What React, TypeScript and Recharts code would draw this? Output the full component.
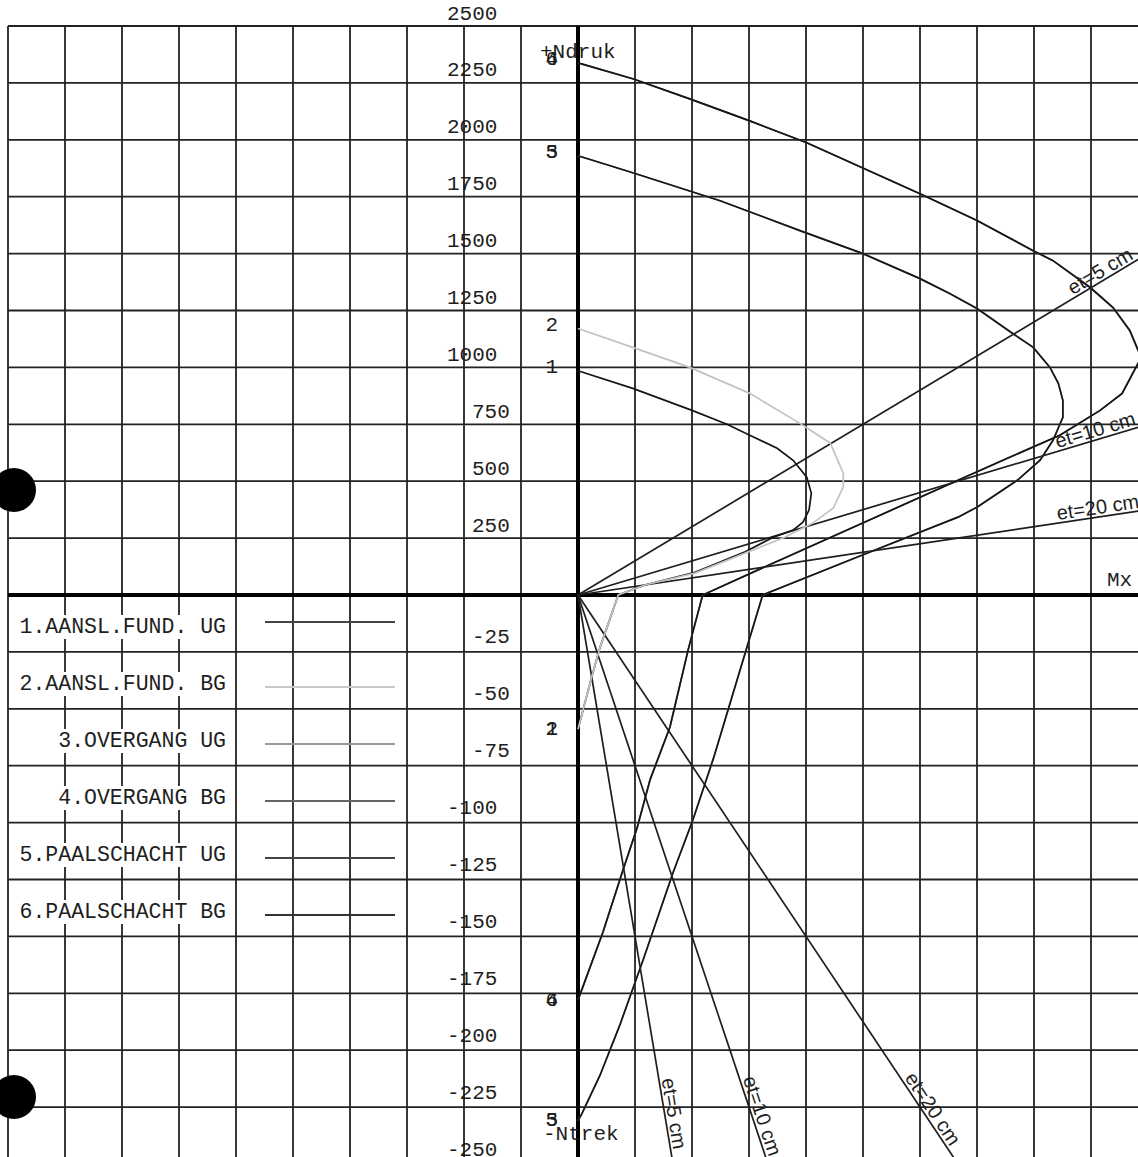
import React from 'react';
import { ComposedChart, Line, XAxis, YAxis, CartesianGrid, ReferenceLine, ReferenceDot } from 'recharts';

// M-N interaction curves for the pile: pairs are [Mx, N], compression positive
const aanslFundUG: [number, number][] = [
  [0, 985], [7.2, 908], [15.0, 811], [19.6, 750], [22.6, 702], [26.2, 645], [28.3, 592],
  [30.1, 518], [30.7, 447], [30.4, 373], [29.6, 320], [28.3, 285], [25.7, 254], [22.0, 190],
  [15.4, 100], [8.8, 44], [5.3, 0], [2.9, -23], [1.8, -36], [0, -59],
];
const aanslFundBG: [number, number][] = [
  [0, 1171], [7.2, 1088], [14.7, 1000], [22.6, 886], [29.2, 754], [33.2, 667], [34.9, 535],
  [34.9, 474], [33.6, 382], [30.9, 316], [27.2, 254], [22.0, 184], [15.4, 96], [8.8, 44],
  [5.3, 0], [2.9, -23], [1.8, -36], [0, -59],
];
// overgang and paalschacht give the same curves
const paalUG: [number, number][] = [
  [0, 1930], [7.2, 1855], [18.7, 1732], [29.2, 1601], [37.5, 1500], [45.0, 1390], [48.9, 1325],
  [52.5, 1259], [57.2, 1149], [59.9, 1088], [62.1, 1000], [63.2, 930], [63.8, 855], [63.8, 781],
  [62.5, 680], [60.8, 592], [57.8, 504], [52.5, 386], [50.0, 342], [37.1, 171], [24.3, 0],
  [17.8, -72], [15.1, -99], [12.5, -122], [8.6, -160], [5.5, -189], [2.9, -211], [0.5, -228], [0, -231],
];
const paalBG: [number, number][] = [
  [0, 2338], [7.2, 2268], [14.7, 2180], [22.6, 2083], [30.1, 1987], [45.0, 1763], [52.5, 1645],
  [59.9, 1513], [62.5, 1469], [67.4, 1351], [70.4, 1263], [72.6, 1162], [73.7, 1075], [74.3, 1044],
  [73.7, 1018], [71.6, 886], [68.7, 811], [63.4, 702], [56.8, 605], [50.0, 504], [37.1, 311],
  [26.6, 154], [16.4, 0], [14.5, -24], [12.1, -58], [9.5, -81], [7.8, -102], [5.9, -121], [3.3, -148], [0, -178],
];

// eccentricity lines N = M / et, drawn from the origin
const etNames = ['et=5 cm', 'et=10 cm', 'et=20 cm'];
const etEndUp: [number, number][] = [[75, 1500], [75, 750], [75, 375]];
const etEndDown: [number, number][] = [[12.5, -250], [25, -250], [50, -250]];
const etLabelUp: [number, number][] = [[65.3, 1306], [63.2, 632], [63.2, 316]];
const etLabelDown: [number, number][] = [[10.6, -213], [21.3, -213], [42.6, -213]];

const mxTicks = [-75, -67.5, -60, -52.5, -45, -37.5, -30, -22.5, -15, -7.5, 0, 7.5, 15, 22.5, 30, 37.5, 45, 52.5, 60, 67.5, 75];
const mxLabels = ['8', '15', '23', '30', '38', '45', '53', '60', '68', '75'];
const nTicksUp = [250, 500, 750, 1000, 1250, 1500, 1750, 2000, 2250, 2500];
const nTicksDown = [-25, -50, -75, -100, -125, -150, -175, -200, -225, -250];

const legendNames = ['1.AANSL.FUND. UG', '2.AANSL.FUND. BG', '3.OVERGANG UG', '4.OVERGANG BG', '5.PAALSCHACHT UG', '6.PAALSCHACHT BG'];
const legendColors = ['#444', '#c8c8c8', '#9a9a9a', '#666', '#444', '#333'];
const curveColors = ['#151515', '#c2c2c2', '#9a9a9a', '#666', '#151515', '#151515'];
const curveLabels = ['1', '2', '3', '4', '5', '6'];
const curves = [aanslFundUG, aanslFundBG, paalUG, paalBG, paalUG, paalBG];

// compression axis is 250 kN per cell, tension axis 25 kN per cell
const N_UP = 250;
const N_DOWN = 25;
const toGrid = (n: number) => (n >= 0 ? n / N_UP : n / N_DOWN);
const nTicksAll = [...nTicksDown.slice().reverse(), 0, ...nTicksUp];
const nGridTicks = nTicksAll.map(toGrid);

const W = 1160;
const H = 1180;
const MARGIN = { top: 26, right: 12, bottom: 16, left: 8 };
const PLOT_W = W - MARGIN.left - MARGIN.right;
const PLOT_H = H - MARGIN.top - MARGIN.bottom;
const AXIS_Y = MARGIN.top + PLOT_H / 2;
const CELL_X = PLOT_W / 20;
const PX_PER_M = PLOT_W / 150;
const PX_PER_G = PLOT_H / 20;

const MONO = "'Liberation Mono', 'DejaVu Sans Mono', monospace";
const SANS = "'Liberation Sans', Arial, sans-serif";
const INK = '#1e1e1e';

const toPoints = (pts: [number, number][]) => pts.map(([m, n]) => ({ m, g: toGrid(n) }));

const slopeAngle = ([m, n]: [number, number]) => (-Math.atan2(toGrid(n) * PX_PER_G, m * PX_PER_M) * 180) / Math.PI;

const MxTick = (props: any) => {
  const { x, payload } = props;
  const i = mxTicks.indexOf(payload.value) - 11;
  if (i < 0) return <g />;
  const label = mxLabels[i];
  const cx = label.length === 1 ? x - 14 : x - CELL_X / 2;
  return (
    <text x={cx} y={AXIS_Y + 14} textAnchor="middle" dominantBaseline="central" fontFamily={MONO} fontSize={21} fill={INK}>
      {label}
    </text>
  );
};

// the N labels are drawn next to the N axis, so the axis itself prints nothing
const EmptyTick = () => <g />;

// N labels sit just above their grid line, left of the N axis
const nLabel = (label: string) => (p: any) => (
  <text
    x={p.cx - 131 + (4 - label.length) * 25}
    y={p.cy - (label.startsWith('-') ? 14 : 12)}
    dominantBaseline="central"
    fontFamily={MONO}
    fontSize={21}
    fill={INK}
  >
    {label}
  </text>
);

const textAt = (text: string, dx: number, dy: number, anchor: string) => (p: any) => (
  <text x={p.cx + dx} y={p.cy + dy} textAnchor={anchor} dominantBaseline="central" fontFamily={MONO} fontSize={21} fill={INK}>
    {text}
  </text>
);

const etText = (text: string, angle: number) => (p: any) => (
  <text
    x={p.cx}
    y={p.cy}
    dy={-3}
    transform={`rotate(${angle} ${p.cx} ${p.cy})`}
    fontFamily={SANS}
    fontSize={20}
    fill={INK}
  >
    {text}
  </text>
);

function Legend() {
  return (
    <>
      {legendNames.map((name, i) => {
        const cy = AXIS_Y + 32 + PX_PER_G * i;
        const lineY = cy + (i === 0 ? -5 : 3);
        return (
          <React.Fragment key={name}>
            <div style={{ position: 'absolute', left: 0, width: 226, top: cy - 12, textAlign: 'right' }}>
              <span
                style={{
                  background: '#fff',
                  fontFamily: MONO,
                  fontSize: 21.5,
                  lineHeight: '24px',
                  whiteSpace: 'pre',
                  color: INK,
                  display: 'inline-block',
                }}
              >
                {name}
              </span>
            </div>
            <div style={{ position: 'absolute', left: 265, width: 130, top: lineY - 1, height: 2, background: legendColors[i] }} />
          </React.Fragment>
        );
      })}
    </>
  );
}

export default function App() {
  return (
    <div style={{ position: 'fixed', left: 0, top: 0, width: 1138, height: 1157, overflow: 'hidden', background: '#fff' }}>
      <ComposedChart width={W} height={H} margin={MARGIN}>
        <CartesianGrid stroke="#222" strokeWidth={1.8} />
        <XAxis
          type="number"
          dataKey="m"
          domain={[-75, 75]}
          ticks={mxTicks}
          interval={0}
          allowDataOverflow
          height={0}
          axisLine={false}
          tickLine={false}
          tick={MxTick}
        />
        <YAxis
          type="number"
          dataKey="g"
          domain={[-10, 10]}
          ticks={nGridTicks}
          interval={0}
          allowDataOverflow
          width={0}
          axisLine={false}
          tickLine={false}
          tick={EmptyTick}
        />
        <ReferenceLine x={0} stroke="#000" strokeWidth={4} />
        <ReferenceLine y={0} stroke="#000" strokeWidth={4} />

        {nTicksAll.filter((n) => n !== 0).map((n) => (
          <ReferenceDot key={`n${n}`} x={0} y={toGrid(n)} r={0} shape={nLabel(String(n))} />
        ))}

        {etEndUp.map((end, i) => (
          <Line key={`etu${i}`} data={toPoints([[0, 0], end])} dataKey="g" type="linear" stroke={INK} strokeWidth={1.7} dot={false} isAnimationActive={false} />
        ))}
        {etEndDown.map((end, i) => (
          <Line key={`etd${i}`} data={toPoints([[0, 0], end])} dataKey="g" type="linear" stroke={INK} strokeWidth={1.7} dot={false} isAnimationActive={false} />
        ))}

        {curves.map((pts, i) => (
          <Line
            key={`c${i}`}
            name={legendNames[i]}
            data={toPoints(pts)}
            dataKey="g"
            type="linear"
            stroke={curveColors[i]}
            strokeWidth={1.7}
            dot={false}
            isAnimationActive={false}
          />
        ))}

        {curves.map((pts, i) => {
          const first = pts[0];
          const last = pts[pts.length - 1];
          return (
            <React.Fragment key={`l${i}`}>
              <ReferenceDot x={first[0]} y={toGrid(first[1])} r={0} shape={textAt(curveLabels[i], -20, -3, 'end')} />
              <ReferenceDot x={last[0]} y={toGrid(last[1])} r={0} shape={textAt(curveLabels[i], -20, 0, 'end')} />
            </React.Fragment>
          );
        })}

        {etLabelUp.map(([m, n], i) => (
          <ReferenceDot key={`etlu${i}`} x={m} y={toGrid(n)} r={0} shape={etText(etNames[i], slopeAngle(etEndUp[i]))} />
        ))}
        {etLabelDown.map(([m, n], i) => (
          <ReferenceDot key={`etld${i}`} x={m} y={toGrid(n)} r={0} shape={etText(etNames[i], slopeAngle(etEndDown[i]))} />
        ))}

        <ReferenceDot x={0} y={10} r={0} shape={textAt('+Ndruk', -38, 26, 'start')} />
        <ReferenceDot x={0} y={-10} r={0} shape={textAt('-Ntrek', -35, -30, 'start')} />
        <ReferenceDot x={75} y={0} r={0} shape={textAt('Mx', -41, -15, 'start')} />
      </ComposedChart>

      <Legend />

      {/* binder holes in the sheet */}
      <div style={{ position: 'absolute', left: -8, top: 468, width: 44, height: 44, borderRadius: '50%', background: '#000' }} />
      <div style={{ position: 'absolute', left: -8, top: 1075, width: 44, height: 44, borderRadius: '50%', background: '#000' }} />
    </div>
  );
}
